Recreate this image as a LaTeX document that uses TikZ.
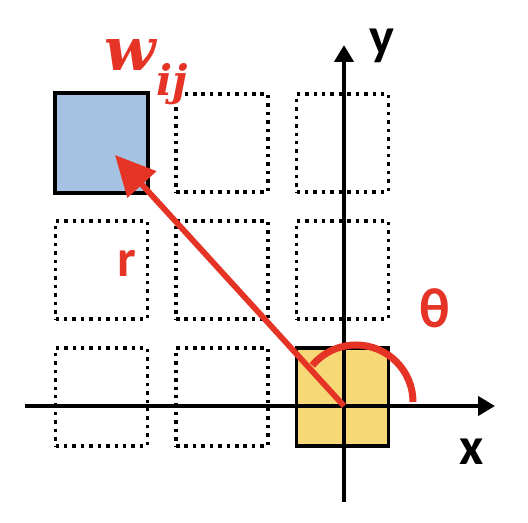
\documentclass[tikz,border=0pt]{standalone}
\usepackage{amsmath}
\usepackage{amssymb}
\usepackage{fontspec}
\setmainfont{Carlito}
\newfontfamily\wfont{DejaVu Serif}
\usepackage{tikz}
\usetikzlibrary{arrows.meta, positioning}

\definecolor{arrowred}{RGB}{229,52,38}
\definecolor{cellblue}{RGB}{166,194,227}
\definecolor{cellyellow}{RGB}{247,216,118}

\tikzset{
    cell/.style={draw, line width=2pt, dash pattern=on 2pt off 2.8pt,
        minimum width=1.84cm, minimum height=1.96cm, inner sep=0pt},
    target/.style={draw, line width=2.2pt, fill=cellblue,
        minimum width=1.86cm, minimum height=2.0cm, inner sep=0pt},
    origincell/.style={draw, line width=2pt, fill=cellyellow,
        minimum width=1.84cm, minimum height=1.96cm, inner sep=0pt},
    axis/.style={line width=2.8pt, -{Triangle[length=0.34cm, width=0.38cm]}},
    axislabel/.style={font=\fontsize{30}{34}\selectfont\bfseries},
    redlabel/.style={text=arrowred, font=\fontsize{30}{34}\selectfont\bfseries}
}

\begin{document}
\begin{tikzpicture}[x=0.02cm, y=0.02cm]
    % Canvas
    \useasboundingbox (0,0) rectangle (528,522);

    % Grid spacing
    \def\dx{120.5}
    \def\dy{127}

    % Dotted cells (3x3)
    \foreach \i in {0,1,2} {
        \foreach \j in {0,1,2} {
            \node[cell] (c\i\j) at ({101.5+\i*\dx}, {379-\j*\dy}) {};
        }
    }

    % Weight cell and centre cell
    \node[target] (wcell) at (101.5,379) {};
    \node[origincell] (ocell) at (342.5,125) {};

    % Axes
    \coordinate (o) at (344,116);
    \coordinate (xl) at (25,116);
    \coordinate (xr) at (495,116);
    \coordinate (yb) at (344,20);
    \coordinate (yt) at (344,477);
    \draw[axis] (xl) -- (xr);
    \draw[axis] (yb) -- (yt);
    \node[axislabel] (xlab) at (472,70) {x};
    \node[axislabel] (ylab) at (382,476) {y};

    % Angle
    \draw[arrowred, line width=4pt] (413,120) arc (0:140:57);
    \node[redlabel, font=\fontsize{32}{36}\selectfont\bfseries] (theta) at (435,214) {θ};

    % Radius vector
    \coordinate (tip) at (115,367);
    \draw[arrowred, line width=3.3pt, -{Triangle[length=0.8cm, width=0.76cm]}] (o) -- (tip);
    \node[redlabel] (rlab) at (127,259) {r};

    % Weight label
    \node[text=arrowred, font=\wfont\bfseries\itshape\fontsize{34}{40}\selectfont, inner sep=0pt]
        (wlab) at (146,450) {w\raisebox{-0.42em}{\fontsize{24}{28}\selectfont ij}};
\end{tikzpicture}
\end{document}
